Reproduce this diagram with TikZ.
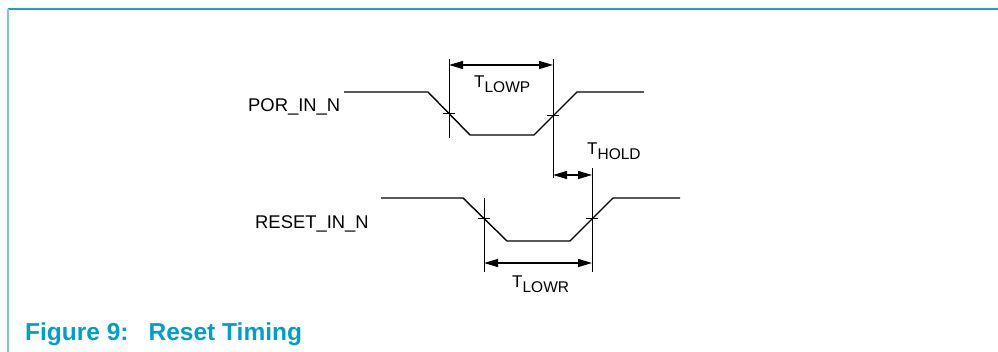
\documentclass[tikz,border=0pt]{standalone}
\usepackage{fontspec}
\setmainfont{Liberation Sans}
\usepackage{tikz}
\usetikzlibrary{arrows.meta}
\definecolor{cRahmen}{RGB}{30,160,195}
\definecolor{cRahmenHell}{RGB}{120,200,222}
\definecolor{cTitel}{RGB}{0,158,204}
\newcommand{\tzeit}[1]{T\raisebox{-5pt}{\fontsize{15.5}{16}\selectfont #1}}

\begin{document}
\begin{tikzpicture}[x=1pt,y=-1pt,font=\fontsize{18.4}{20}\selectfont]
\tikzset{signal/.style={line width=1.4pt},
  hilfslinie/.style={line width=1pt},
  masspfeil/.style={line width=1.2pt,{Triangle[length=14pt,width=8pt]}-{Triangle[length=14pt,width=8pt]}},
  beschr/.style={anchor=base west,inner sep=0pt}}
\useasboundingbox (0,0) rectangle (998,352);
% Rahmen
\draw[cRahmen,line width=2pt] (7.5,9)--(998,9);
\draw[cRahmenHell,line width=2pt] (7.5,9)--(7.5,352);
% Signale
\draw[signal] (344,92)--(428,92)--(470,135)--(534,135)--(577,92)--(644,92);
\draw[signal] (381,198)--(463,198)--(507,241)--(570,241)--(613,198)--(680,198);
\coordinate (porab) at (449,113.5); \coordinate (porauf) at (553,116);
\coordinate (rstab) at (484,218.5); \coordinate (rstauf) at (592,219);
\foreach \p in {porab,porauf,rstab,rstauf}
  \draw[hilfslinie] ([xshift=-6pt]\p)--([xshift=6pt]\p);
% Hilfslinien
\draw[hilfslinie] (porab |- 0,59)--(porab |- 0,138);
\draw[hilfslinie] (porauf |- 0,59)--(porauf |- 0,178);
\draw[hilfslinie] (rstab |- 0,198)--(rstab |- 0,272);
\draw[hilfslinie] (rstauf |- 0,168)--(rstauf |- 0,272);
% Masspfeile
\draw[masspfeil] (porab |- 0,65)--(porauf |- 0,65);
\draw[masspfeil] (porauf |- 0,175)--(rstauf |- 0,175);
\draw[masspfeil] (rstab |- 0,263)--(rstauf |- 0,263);
% Texte
\node[beschr] (por) at (248,112) {POR\_IN\_N};
\node[beschr] (reset) at (255,229) {RESET\_IN\_N};
\node[beschr,font=\fontsize{17}{18}\selectfont] (tlowp) at (474,88) {\tzeit{LOWP}};
\node[beschr,font=\fontsize{17}{18}\selectfont] (thold) at (587,155) {\tzeit{HOLD}};
\node[beschr,font=\fontsize{17}{18}\selectfont] (tlowr) at (512,288) {\tzeit{LOWR}};
\node[beschr,cTitel,font=\fontsize{24.5}{27}\selectfont\bfseries] (titel) at (25,341) {Figure 9:\hspace{20pt}Reset Timing};
\end{tikzpicture}
\end{document}
